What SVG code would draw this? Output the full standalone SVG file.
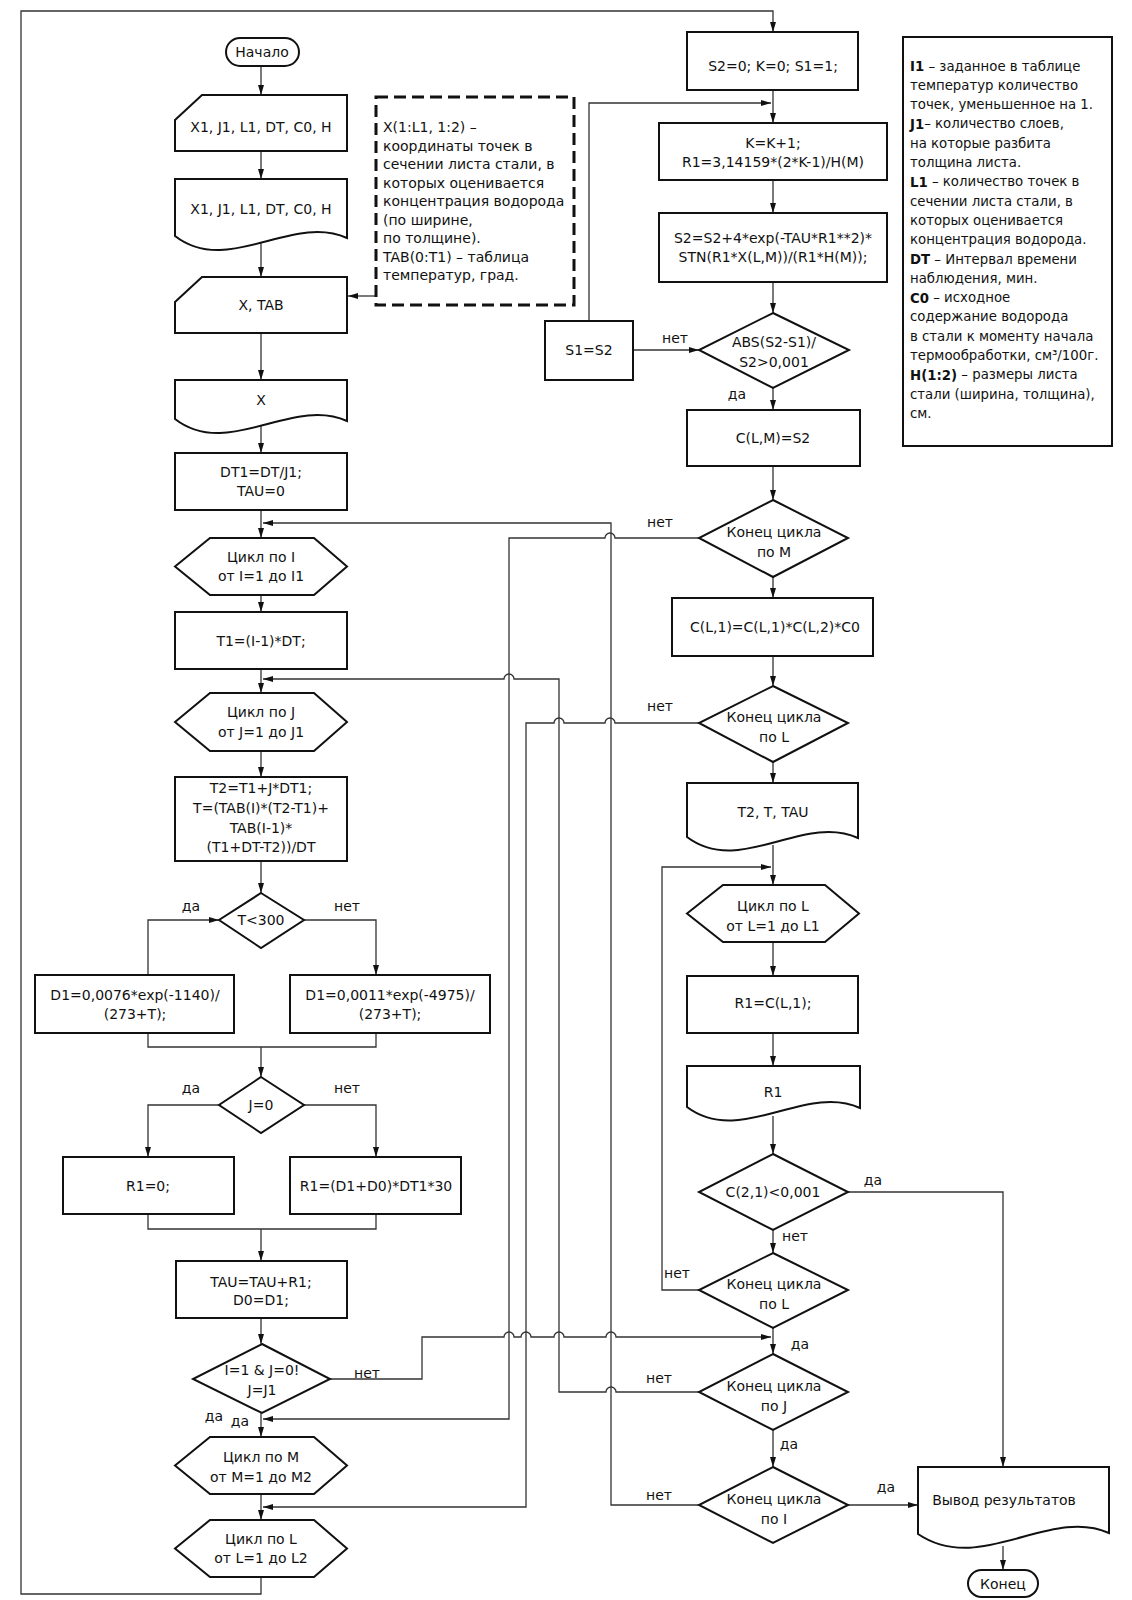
<svg xmlns="http://www.w3.org/2000/svg" width="1132" height="1600" viewBox="0 0 1132 1600">
<defs>
<marker id="ah" viewBox="0 0 10 6" refX="10" refY="3" markerWidth="10" markerHeight="6" markerUnits="userSpaceOnUse" orient="auto"><path d="M0,0 L10,3 L0,6 Z" fill="#111"/></marker>
<style>
.s{fill:#fff;stroke:#111;stroke-width:2}
.c{fill:none;stroke:#333;stroke-width:1.3}
.a{marker-end:url(#ah)}
.d{fill:#fff;stroke:#111;stroke-width:3;stroke-dasharray:12 6}
text{font-family:"DejaVu Sans","Liberation Sans",sans-serif;font-size:14px;fill:#111;dominant-baseline:central}
.m{text-anchor:middle}
.lg text{font-size:13.3px}
</style>
</defs>
<rect width="1132" height="1600" fill="#fff"/>

<g id="connectors">
<path class="c a" d="M261,1577 V1594 H21 V11 H773 V32"/>
<path class="c a" d="M261,66 V95"/>
<path class="c a" d="M261,151 V179"/>
<path class="c a" d="M261,243 V277"/>
<path class="c a" d="M376,296 H348"/>
<path class="c a" d="M261,333 V380"/>
<path class="c a" d="M261,426 V453"/>
<path class="c a" d="M261,510 V538"/>
<path class="c a" d="M261,595 V612"/>
<path class="c a" d="M261,669 V693"/>
<path class="c a" d="M261,751 V777"/>
<path class="c a" d="M261,861 V893"/>
<path class="c a" d="M148,975 V920 H219"/>
<path class="c a" d="M304,920 H376 V975"/>
<path class="c" d="M148,1033 V1047 H376 V1033"/>
<path class="c a" d="M261,1047 V1077"/>
<path class="c a" d="M219,1105 H148 V1157"/>
<path class="c a" d="M304,1105 H376 V1157"/>
<path class="c" d="M148,1214 V1229 H376 V1214"/>
<path class="c a" d="M261,1229 V1261"/>
<path class="c a" d="M261,1318 V1344"/>
<path class="c a" d="M261,1413 V1437"/>
<path class="c a" d="M261,1494 V1520"/>
<path class="c a" d="M330,1379 H422 V1337 H504 a5,5 0 0 1 10,0 H521 a5,5 0 0 1 10,0 H554 a5,5 0 0 1 10,0 H606 a5,5 0 0 1 10,0 H771"/>
<path class="c a" d="M773,90 V123"/>
<path class="c a" d="M773,180 V213"/>
<path class="c a" d="M773,282 V313"/>
<path class="c a" d="M633,350 H699"/>
<path class="c a" d="M589,321 V103 H771"/>
<path class="c a" d="M773,388 V410"/>
<path class="c a" d="M773,466 V500"/>
<path class="c a" d="M773,577 V598"/>
<path class="c a" d="M773,656 V686"/>
<path class="c a" d="M773,762 V783"/>
<path class="c a" d="M773,845 V885"/>
<path class="c a" d="M773,942 V976"/>
<path class="c a" d="M773,1033 V1066"/>
<path class="c a" d="M773,1116 V1154"/>
<path class="c a" d="M773,1230 V1253"/>
<path class="c a" d="M773,1328 V1354"/>
<path class="c a" d="M773,1430 V1467"/>
<path class="c a" d="M848,1505 H918"/>
<path class="c a" d="M848,1192 H1003 V1467"/>
<path class="c a" d="M1003,1546 V1570"/>
<path class="c a" d="M699,1290 H662 V867 H771"/>
<path class="c a" d="M699,538 H615 a5,5 0 0 0 -10,0 H509 V1419 H263"/>
<path class="c a" d="M699,723 H615 a5,5 0 0 0 -10,0 H564 a5,5 0 0 0 -10,0 H526 V1507 H263"/>
<path class="c a" d="M699,1392 H616 a5,5 0 0 0 -10,0 H559 V679 H514 a5,5 0 0 0 -10,0 H263"/>
<path class="c a" d="M699,1505 H611 V523 H263"/>
</g>

<g id="labels">
<text class="m" x="191" y="906">да</text>
<text class="m" x="347" y="906">нет</text>
<text class="m" x="191" y="1088">да</text>
<text class="m" x="347" y="1088">нет</text>
<text class="m" x="367" y="1373">нет</text>
<text class="m" x="214" y="1416">да</text>
<text class="m" x="240" y="1421">да</text>
<text class="m" x="675" y="338">нет</text>
<text class="m" x="737" y="394">да</text>
<text class="m" x="660" y="522">нет</text>
<text class="m" x="660" y="706">нет</text>
<text class="m" x="873" y="1180">да</text>
<text class="m" x="795" y="1236">нет</text>
<text class="m" x="677" y="1273">нет</text>
<text class="m" x="800" y="1344">да</text>
<text class="m" x="659" y="1378">нет</text>
<text class="m" x="789" y="1444">да</text>
<text class="m" x="659" y="1495">нет</text>
<text class="m" x="886" y="1487">да</text>
</g>

<g id="start"><rect class="s" x="226" y="38" width="73" height="28" rx="14"/><text class="m" x="262" y="52">Начало</text></g>
<g id="input1"><path class="s" d="M175,120 L202,95 H347 V151 H175 Z"/><text class="m" x="261" y="127">X1, J1, L1, DT, C0, H</text></g>
<g id="doc1"><path class="s" d="M175,179 H347 V238 C292,213 228,277 175,236 Z"/><text class="m" x="261" y="209">X1, J1, L1, DT, C0, H</text></g>
<g id="comment"><rect class="d" x="376" y="97" width="198" height="208"/>
<text x="383" y="127">X(1:L1, 1:2) –</text>
<text x="383" y="145.5">координаты точек в</text>
<text x="383" y="164">сечении листа стали, в</text>
<text x="383" y="182.5">которых оценивается</text>
<text x="383" y="201">концентрация водорода</text>
<text x="383" y="219.5">(по ширине,</text>
<text x="383" y="238">по толщине).</text>
<text x="383" y="256.5">TAB(0:T1) – таблица</text>
<text x="383" y="275">температур, град.</text>
</g>
<g id="inputXTAB"><path class="s" d="M175,302 L202,277 H347 V333 H175 Z"/><text class="m" x="261" y="305">X, TAB</text></g>
<g id="docX"><path class="s" d="M175,380 H347 V421 C292,396 228,460 175,419 Z"/><text class="m" x="261" y="400">X</text></g>
<g id="dt1"><rect class="s" x="175" y="453" width="172" height="57"/><text class="m" x="261" y="472">DT1=DT/J1;</text><text class="m" x="261" y="491">TAU=0</text></g>
<g id="loopI"><path class="s" d="M175,566.5 L210,538 H314 L347,566.5 L314,595 H210 Z"/><text class="m" x="261" y="557">Цикл по I</text><text class="m" x="261" y="576">от I=1 до I1</text></g>
<g id="t1"><rect class="s" x="175" y="612" width="172" height="57"/><text class="m" x="261" y="641">T1=(I-1)*DT;</text></g>
<g id="loopJ"><path class="s" d="M175,722 L210,693 H314 L347,722 L314,751 H210 Z"/><text class="m" x="261" y="712">Цикл по J</text><text class="m" x="261" y="732">от J=1 до J1</text></g>
<g id="t2"><rect class="s" x="175" y="777" width="172" height="84"/><text class="m" x="261" y="788">T2=T1+J*DT1;</text><text class="m" x="261" y="808">T=(TAB(I)*(T2-T1)+</text><text class="m" x="261" y="828">TAB(I-1)*</text><text class="m" x="261" y="847">(T1+DT-T2))/DT</text></g>
<g id="t300"><path class="s" d="M261,893 L304,920 L261,948 L219,920 Z"/><text class="m" x="261" y="920">T&lt;300</text></g>
<g id="d1a"><rect class="s" x="35" y="975" width="199" height="58"/><text class="m" x="135" y="995">D1=0,0076*exp(-1140)/</text><text class="m" x="135" y="1014">(273+T);</text></g>
<g id="d1b"><rect class="s" x="290" y="975" width="200" height="58"/><text class="m" x="390" y="995">D1=0,0011*exp(-4975)/</text><text class="m" x="390" y="1014">(273+T);</text></g>
<g id="j0"><path class="s" d="M261,1077 L304,1105 L261,1133 L219,1105 Z"/><text class="m" x="261" y="1105">J=0</text></g>
<g id="r1a"><rect class="s" x="63" y="1157" width="171" height="57"/><text class="m" x="148" y="1186">R1=0;</text></g>
<g id="r1b"><rect class="s" x="290" y="1157" width="171" height="57"/><text class="m" x="376" y="1186">R1=(D1+D0)*DT1*30</text></g>
<g id="tau"><rect class="s" x="176" y="1261" width="171" height="57"/><text class="m" x="261" y="1282">TAU=TAU+R1;</text><text class="m" x="261" y="1300">D0=D1;</text></g>
<g id="cond"><path class="s" d="M262,1344 L330,1379 L262,1413 L193,1379 Z"/><text class="m" x="262" y="1370">I=1 &amp; J=0!</text><text class="m" x="262" y="1390">J=J1</text></g>
<g id="loopM"><path class="s" d="M175,1465.5 L210,1437 H314 L347,1465.5 L314,1494 H210 Z"/><text class="m" x="261" y="1457">Цикл по M</text><text class="m" x="261" y="1477">от M=1 до M2</text></g>
<g id="loopL2"><path class="s" d="M175,1548.5 L210,1520 H314 L347,1548.5 L314,1577 H210 Z"/><text class="m" x="261" y="1539">Цикл по L</text><text class="m" x="261" y="1558">от L=1 до L2</text></g>

<g id="init"><rect class="s" x="687" y="32" width="171" height="58"/><text class="m" x="773" y="66">S2=0; K=0; S1=1;</text></g>
<g id="kbox"><rect class="s" x="659" y="123" width="228" height="57"/><text class="m" x="773" y="143">K=K+1;</text><text class="m" x="773" y="162">R1=3,14159*(2*K-1)/H(M)</text></g>
<g id="s2box"><rect class="s" x="659" y="213" width="228" height="69"/><text class="m" x="773" y="238">S2=S2+4*exp(-TAU*R1**2)*</text><text class="m" x="773" y="257">STN(R1*X(L,M))/(R1*H(M));</text></g>
<g id="abs"><path class="s" d="M773,313 L849,350 L773,388 L699,350 Z"/><text class="m" x="774" y="342">ABS(S2-S1)/</text><text class="m" x="774" y="362">S2&gt;0,001</text></g>
<g id="s1s2"><rect class="s" x="545" y="321" width="88" height="59"/><text class="m" x="589" y="350">S1=S2</text></g>
<g id="clm"><rect class="s" x="687" y="410" width="173" height="56"/><text class="m" x="773" y="438">C(L,M)=S2</text></g>
<g id="endM"><path class="s" d="M773,500 L848,538 L773,577 L699,538 Z"/><text class="m" x="774" y="532">Конец цикла</text><text class="m" x="774" y="552">по M</text></g>
<g id="cl1"><rect class="s" x="672" y="598" width="201" height="58"/><text class="m" x="775" y="627">C(L,1)=C(L,1)*C(L,2)*C0</text></g>
<g id="endL1"><path class="s" d="M773,686 L848,723 L773,762 L699,723 Z"/><text class="m" x="774" y="717">Конец цикла</text><text class="m" x="774" y="737">по L</text></g>
<g id="docT2"><path class="s" d="M687,783 H858 V838 C803,813 740,877 687,837 Z"/><text class="m" x="773" y="812">T2, T, TAU</text></g>
<g id="loopL1"><path class="s" d="M687,913.5 L723,885 H825 L859,913.5 L825,942 H723 Z"/><text class="m" x="773" y="906">Цикл по L</text><text class="m" x="773" y="926">от L=1 до L1</text></g>
<g id="r1c"><rect class="s" x="687" y="976" width="171" height="57"/><text class="m" x="773" y="1003">R1=C(L,1);</text></g>
<g id="docR1"><path class="s" d="M687,1066 H860 V1108 C805,1083 740,1147 687,1107 Z"/><text class="m" x="773" y="1092">R1</text></g>
<g id="c21"><path class="s" d="M773,1154 L848,1192 L773,1230 L699,1192 Z"/><text class="m" x="773" y="1192">C(2,1)&lt;0,001</text></g>
<g id="endL2"><path class="s" d="M773,1253 L848,1290 L773,1328 L699,1290 Z"/><text class="m" x="774" y="1284">Конец цикла</text><text class="m" x="774" y="1304">по L</text></g>
<g id="endJ"><path class="s" d="M773,1354 L848,1392 L773,1430 L699,1392 Z"/><text class="m" x="774" y="1386">Конец цикла</text><text class="m" x="774" y="1406">по J</text></g>
<g id="endI"><path class="s" d="M773,1467 L848,1505 L773,1543 L699,1505 Z"/><text class="m" x="774" y="1499">Конец цикла</text><text class="m" x="774" y="1519">по I</text></g>
<g id="output"><path class="s" d="M918,1467 H1109 V1533 C1050,1506 980,1576 918,1534 Z"/><text class="m" x="1004" y="1500">Вывод результатов</text></g>
<g id="end"><rect class="s" x="968" y="1570" width="70" height="27" rx="13.5"/><text class="m" x="1003" y="1583.5">Конец</text></g>

<g id="legend" class="lg"><rect class="s" x="903" y="37" width="209" height="409"/>
<text x="910" y="66"><tspan font-weight="bold">I1</tspan> – заданное в таблице</text>
<text x="910" y="85.3">температур количество</text>
<text x="910" y="104.6">точек, уменьшенное на 1.</text>
<text x="910" y="123.9"><tspan font-weight="bold">J1</tspan>– количество слоев,</text>
<text x="910" y="143.2">на которые разбита</text>
<text x="910" y="162.5">толщина листа.</text>
<text x="910" y="181.8"><tspan font-weight="bold">L1</tspan> – количество точек в</text>
<text x="910" y="201.1">сечении листа стали, в</text>
<text x="910" y="220.4">которых оценивается</text>
<text x="910" y="239.7">концентрация водорода.</text>
<text x="910" y="259"><tspan font-weight="bold">DT</tspan> – Интервал времени</text>
<text x="910" y="278.3">наблюдения, мин.</text>
<text x="910" y="297.6"><tspan font-weight="bold">C0</tspan> – исходное</text>
<text x="910" y="316.9">содержание водорода</text>
<text x="910" y="336.2">в стали к моменту начала</text>
<text x="910" y="355.5">термообработки, см³/100г.</text>
<text x="910" y="374.8"><tspan font-weight="bold">H(1:2)</tspan> – размеры листа</text>
<text x="910" y="394.1">стали (ширина, толщина),</text>
<text x="910" y="413.4">см.</text>
</g>
</svg>
